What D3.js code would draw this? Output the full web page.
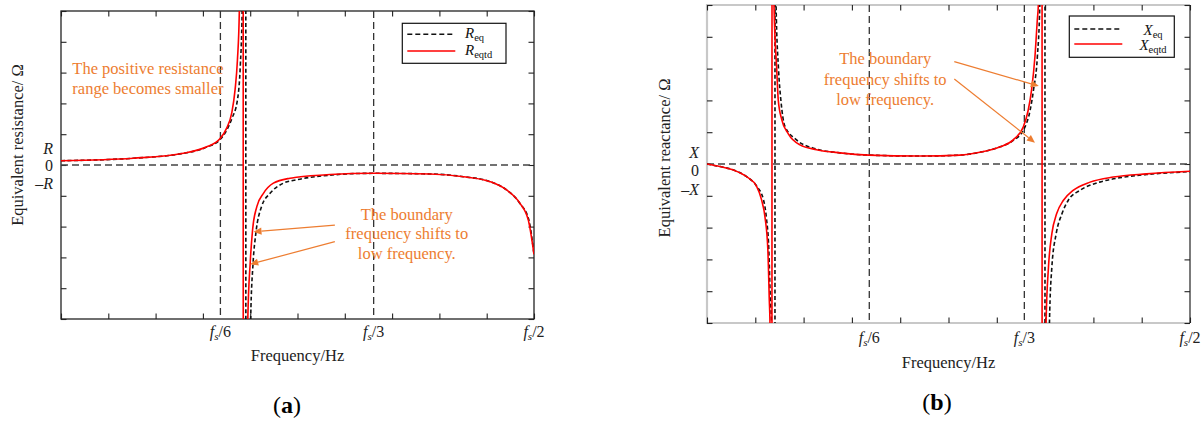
<!DOCTYPE html>
<html><head><meta charset="utf-8">
<script src="https://cdn.jsdelivr.net/npm/d3@7"></script>
<style>
body{margin:0;background:#fff}
svg{display:block}
text{font-family:"Liberation Serif","Times New Roman",serif}
</style>
</head><body>
<svg id="c" width="1201" height="423"></svg>
<script>
// ---------- data (x in tick units 0..10 of [0, fs/2], y in tick units -5..5) ----------
const xTickUnits = [0,1,2,3,4,5,6,7,8,9,10];
const yTickUnits = [-5,-4,-3,-2,-1,0,1,2,3,4,5];
const xTickDenoms = ["6","3","2"];            // f_s/6, f_s/3, f_s/2
const xTickPosA = [3.37, 6.61, 10];
const xTickPosB = [3.36, 6.57, 10];
const yLabelsA = ["R","0","-R"];
const yLabelsB = ["X","0","-X"];
const yLabelPosA = [0.54, 0, -0.59];
const yLabelPosB = [0.36, -0.21, -0.79];

// (a) equivalent resistance
const rEqA = [[0,0.14],[1.53,0.22],[2.59,0.38],[3.08,0.58],[3.36,0.82],[3.50,1.12],[3.61,1.5],[3.73,2.11],[3.79,3.2],[3.83,5],[3.87,12],[3.905,40],[3.91,-40],[3.99,-9],[4.01,-5],[4.06,-3.2],[4.12,-2.21],[4.24,-1.35],[4.42,-0.92],[4.70,-0.59],[4.98,-0.48],[5.69,-0.33],[6.04,-0.29],[6.60,-0.27],[7.80,-0.29],[8.51,-0.38],[9.07,-0.54],[9.42,-0.81],[9.70,-1.24],[9.89,-1.78],[10,-2.9]];
const rEqtdA = [[0,0.14],[1.53,0.22],[2.59,0.38],[3.08,0.59],[3.36,0.85],[3.50,1.19],[3.61,1.69],[3.68,2.44],[3.73,3.41],[3.77,4.98],[3.81,12],[3.85,40],[3.855,-40],[3.93,-9],[3.95,-4.97],[4.0,-3.18],[4.05,-2.11],[4.14,-1.35],[4.28,-0.92],[4.49,-0.59],[4.84,-0.43],[4.98,-0.40],[5.69,-0.31],[6.60,-0.27],[7.80,-0.29],[8.51,-0.38],[9.07,-0.54],[9.42,-0.81],[9.70,-1.24],[9.88,-1.79],[10,-2.9]];

// (b) equivalent reactance
const xEqB = [[0,0],[0.27,-0.08],[0.55,-0.19],[0.82,-0.4],[1.03,-0.7],[1.17,-1.13],[1.23,-1.7],[1.28,-2.7],[1.31,-4.2],[1.335,-5],[1.36,-12],[1.405,-40],[1.41,40],[1.415,12],[1.43,5],[1.48,3.0],[1.53,2.0],[1.61,1.2],[1.86,0.75],[2.27,0.47],[2.75,0.35],[3.35,0.28],[4.41,0.25],[5.24,0.28],[5.65,0.37],[6.07,0.54],[6.34,0.74],[6.57,1.12],[6.69,1.69],[6.76,2.33],[6.84,3.38],[6.89,5],[6.92,12],[6.995,40],[7.0,-40],[7.06,-10],[7.09,-5],[7.14,-3.24],[7.23,-2.19],[7.35,-1.56],[7.48,-1.14],[7.72,-0.83],[8.13,-0.57],[8.6,-0.42],[9.10,-0.33],[10,-0.24]];
const xEqtdB = [[0,0],[0.27,-0.08],[0.55,-0.19],[0.82,-0.4],[1.03,-0.71],[1.13,-1.13],[1.20,-1.66],[1.26,-2.7],[1.29,-4.28],[1.304,-5],[1.32,-12],[1.343,-40],[1.348,40],[1.37,12],[1.387,5],[1.443,3.0],[1.476,2.0],[1.547,1.4],[1.683,0.95],[1.925,0.6],[2.27,0.45],[2.75,0.35],[3.35,0.28],[4.41,0.25],[5.24,0.28],[5.65,0.37],[6.07,0.54],[6.34,0.76],[6.55,1.17],[6.65,1.69],[6.72,2.33],[6.79,3.38],[6.84,4.56],[6.86,5],[6.89,12],[6.935,40],[6.94,-40],[7.0,-10],[7.02,-5],[7.07,-3.24],[7.14,-2.19],[7.24,-1.56],[7.38,-1.14],[7.58,-0.83],[7.93,-0.57],[8.41,-0.41],[9.10,-0.31],[10,-0.23]];

// annotations (data units)
const noteA1 = ["The positive resistance","range becomes smaller"];
const noteA2 = ["The boundary","frequency shifts to","low frequency."];
const noteB = ["The boundary","frequency shifts to","low frequency."];
const arrowsA = [[[5.79,-1.95],[4.07,-2.17]],[[5.79,-2.49],[4.0,-3.22]]];
const arrowsB = [[[5.12,3.22],[6.87,2.45]],[[5.12,2.67],[6.79,0.67]]];

// ---------- drawing ----------
const svg = d3.select("#c");
const ORANGE = "#ED7D31", RED = "#ff0000";

function fsLabel(sel, denom){
  sel.append("tspan").attr("font-style","italic").text("f");
  sel.append("tspan").attr("font-style","italic").attr("font-size","11px").attr("dy",3).text("s");
  sel.append("tspan").attr("dy",-3).text("/"+denom);
}

function panel(c){
  const g = svg.append("g");
  const x = d3.scaleLinear().domain([0,10]).range([c.L,c.R]);
  const y = d3.scaleLinear().domain([-5,5]).range([c.B,c.T]);
  const cid = "clip"+c.id;
  svg.append("clipPath").attr("id",cid).append("rect")
    .attr("x",c.L).attr("y",c.T).attr("width",c.R-c.L).attr("height",c.B-c.T);

  // frame
  if(c.grayFrame){
    g.append("path").attr("d",`M${c.R},${c.T}H${c.L}V${c.B}H${c.R}`)
      .attr("fill","none").attr("stroke","#c8c8c8").attr("stroke-width",2.2);
    g.append("line").attr("x1",c.R).attr("x2",c.R).attr("y1",c.T).attr("y2",c.B)
      .attr("stroke","#222").attr("stroke-width",1.2);
  } else {
    g.append("rect").attr("x",c.L).attr("y",c.T).attr("width",c.R-c.L).attr("height",c.B-c.T)
      .attr("fill","none").attr("stroke","#222").attr("stroke-width",1.3);
  }
  // ticks (inward, on all sides)
  const axes = [
    [d3.axisBottom(x).tickValues(xTickUnits), `translate(0,${c.B})`],
    [d3.axisTop(x).tickValues(xTickUnits), `translate(0,${c.T})`],
    [d3.axisLeft(y).tickValues(yTickUnits), `translate(${c.L},0)`],
    [d3.axisRight(y).tickValues(yTickUnits), `translate(${c.R},0)`]
  ];
  axes.forEach(([ax,tr])=>{
    const a = g.append("g").attr("transform",tr)
      .call(ax.tickSize(-5.5).tickSizeOuter(0).tickFormat(""));
    a.select(".domain").remove();
    a.selectAll("line").attr("stroke","#222").attr("stroke-width",1.1);
  });

  // reference dashed lines
  const ref = g.append("g").attr("stroke","#333").attr("stroke-width",1.3).attr("stroke-dasharray","7,4");
  ref.append("line").attr("x1",c.L).attr("x2",c.R).attr("y1",y(0)).attr("y2",y(0)).attr("stroke","#444");
  c.xPos.slice(0,2).forEach(u=>{
    ref.append("line").attr("x1",x(u)).attr("x2",x(u)).attr("y1",c.T).attr("y2",c.B);
  });

  // curves
  const line = d3.line().x(d=>x(d[0])).y(d=>y(d[1])).curve(d3.curveMonotoneX);
  const cg = g.append("g").attr("clip-path",`url(#${cid})`);
  cg.append("path").datum(c.eq).attr("d",line).attr("fill","none")
    .attr("stroke","#111").attr("stroke-width",1.6).attr("stroke-dasharray","4,2.5");
  cg.append("path").datum(c.eqtd).attr("d",line).attr("fill","none")
    .attr("stroke",RED).attr("stroke-width",1.6);

  // x tick labels
  c.xPos.forEach((u,i)=>{
    const t = g.append("text").attr("x",x(u)).attr("y",c.xLabY).attr("text-anchor","middle")
      .attr("font-size","16px").attr("fill","#222");
    fsLabel(t, xTickDenoms[i]);
  });
  // y labels
  c.yLab.forEach((s,i)=>{
    const t = g.append("text").attr("x",c.L-8).attr("y",y(c.yPos[i])).attr("dy","0.35em")
      .attr("text-anchor","end").attr("font-size","16px").attr("fill","#222");
    if(s==="0") t.text("0");
    else { t.attr("font-style","italic").text(s.replace("-","\u2013")); }
  });
  // axis titles
  g.append("text").attr("x",(c.L+c.R)/2).attr("y",c.xTitleY).attr("text-anchor","middle")
    .attr("font-size","16.5px").attr("fill","#222").text("Frequency/Hz");
  g.append("text").attr("transform",`translate(${c.yTitleX},${c.yTitleY}) rotate(-90)`)
    .attr("text-anchor","middle").attr("dy","0.35em").attr("font-size","16.5px").attr("fill","#222").text(c.yTitle);
  // panel tag
  const tg = g.append("text").attr("x",c.tagX).attr("y",c.tagY).attr("text-anchor","middle")
    .attr("font-size","24px").attr("fill","#000");
  tg.append("tspan").text("(");
  tg.append("tspan").attr("font-weight","bold").text(c.tag);
  tg.append("tspan").text(")");

  // legend
  const lg = g.append("g");
  lg.append("rect").attr("x",c.lg.x).attr("y",c.lg.y).attr("width",c.lg.w).attr("height",c.lg.h)
    .attr("fill","#fff").attr("stroke","#111").attr("stroke-width",1.2);
  [[c.lg.y1,"#111","5,3",c.sym,"eq"],[c.lg.y2,RED,null,c.sym,"eqtd"]].forEach(([ly,col,da,sym,sub],k)=>{
    const l = lg.append("line").attr("x1",c.lg.x+5).attr("x2",c.lg.x+53).attr("y1",ly).attr("y2",ly)
      .attr("stroke",col).attr("stroke-width",1.4);
    if(da) l.attr("stroke-dasharray",da);
    const t = lg.append("text").attr("x",c.lg.tx).attr("y",ly+(c.lg.dy))
      .attr("text-anchor",c.lg.anchor).attr("font-size","15px").attr("fill","#111");
    t.append("tspan").attr("font-style","italic").text(sym);
    t.append("tspan").attr("font-size","10.5px").attr("dy",3).text(sub);
  });

  // annotations
  const ag = g.append("g");
  function arrow(p0,p1){
    const x0=x(p0[0]),y0=y(p0[1]),x1=x(p1[0]),y1=y(p1[1]);
    const ang=Math.atan2(y1-y0,x1-x0), L=8, W=3.6;
    const bx=x1-L*Math.cos(ang), by=y1-L*Math.sin(ang);
    ag.append("line").attr("x1",x0).attr("y1",y0).attr("x2",bx).attr("y2",by)
      .attr("stroke",ORANGE).attr("stroke-width",1.2);
    const px=-Math.sin(ang)*W, py=Math.cos(ang)*W;
    ag.append("path").attr("d",`M${x1},${y1}L${bx+px},${by+py}L${bx-px},${by-py}Z`).attr("fill",ORANGE);
  }
  c.arrows.forEach(a=>arrow(a[0],a[1]));
  c.notes.forEach(n=>{
    n.lines.forEach((s,i)=>{
      ag.append("text").attr("x",x(n.u)).attr("y",y(n.v[i])).attr("dy","0.35em")
        .attr("text-anchor",n.anchor).attr("font-size","16.5px").attr("fill",ORANGE).text(s);
    });
  });
}

panel({id:"a", L:61, R:534, T:11, B:319, grayFrame:false,
  eq:rEqA, eqtd:rEqtdA, xPos:xTickPosA, yLab:yLabelsA, yPos:yLabelPosA,
  xLabY:337, xTitleY:361, yTitle:"Equivalent resistance/ \u03A9", yTitleX:17, yTitleY:145,
  tag:"a", tagX:287, tagY:413, sym:"R",
  lg:{x:402.3,y:23.3,w:103.7,h:40,y1:34.3,y2:51,tx:465,dy:3.5,anchor:"start"},
  arrows:arrowsA,
  notes:[{u:0.24,v:[3.14,2.49],lines:noteA1,anchor:"start"},{u:7.31,v:[-1.60,-2.22,-2.87],lines:noteA2,anchor:"middle"}]
});
panel({id:"b", L:707, R:1190, T:5, B:323, grayFrame:true,
  eq:xEqB, eqtd:xEqtdB, xPos:xTickPosB, yLab:yLabelsB, yPos:yLabelPosB,
  xLabY:343, xTitleY:368, yTitle:"Equivalent reactance/ \u03A9", yTitleX:664, yTitleY:158,
  tag:"b", tagX:937, tagY:410, sym:"X",
  lg:{x:1069.3,y:16,w:105,h:41.3,y1:29,y2:44,tx:1153,dy:5.5,anchor:"middle"},
  arrows:arrowsB,
  notes:[{u:3.69,v:[3.32,2.67,2.04],lines:noteB,anchor:"middle"}]
});
</script>
</body></html>
